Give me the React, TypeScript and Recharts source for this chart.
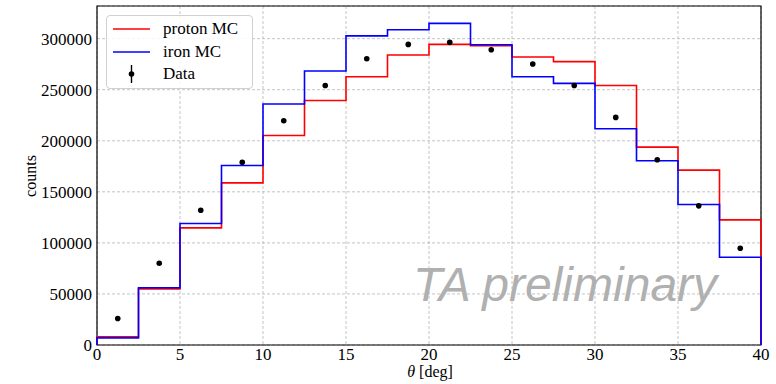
import React from 'react';
import { ComposedChart, Line, Scatter, XAxis, YAxis, CartesianGrid, ReferenceArea, Label } from 'recharts';

// bin edges in degrees (2.5 deg bins)
const binEdges = [0, 2.5, 5, 7.5, 10, 12.5, 15, 17.5, 20, 22.5, 25, 27.5, 30, 32.5, 35, 37.5, 40];

const protonCounts = [
    8000, 55000, 114700, 158800, 205200, 239500, 262700, 284000,
    294400, 293100, 282000, 277500, 254200, 193800, 171300, 122500,
];

const ironCounts = [
    7000, 56000, 119000, 175800, 236000, 268300, 302700, 308800,
    315000, 294100, 262700, 256200, 211800, 180400, 137600, 86000,
];

const dataTheta = [
    1.25, 3.75, 6.25, 8.75, 11.25, 13.75, 16.25, 18.75,
    21.25, 23.75, 26.25, 28.75, 31.25, 33.75, 36.25, 38.75,
];

const dataCounts = [
    26000, 80100, 132000, 179000, 219600, 254200, 280400, 294400,
    296400, 289200, 275200, 254200, 222900, 181400, 136300, 94800,
];

const xTicks = [0, 5, 10, 15, 20, 25, 30, 35, 40];
const yTicks = [0, 50000, 100000, 150000, 200000, 250000, 300000];
const yMax = 332000;

// closed step outline like matplotlib histtype='step'
const toSteps = (counts: number[]) => {
    const pts = [{ x: binEdges[0], y: 0 }];
    counts.forEach((c, i) => pts.push({ x: binEdges[i], y: c }));
    pts.push({ x: binEdges[binEdges.length - 1], y: counts[counts.length - 1] });
    pts.push({ x: binEdges[binEdges.length - 1], y: 0 });
    return pts;
};

const protonSteps = toSteps(protonCounts);
const ironSteps = toSteps(ironCounts);
const dataPoints = dataTheta.map((t, i) => ({ x: t, y: dataCounts[i] }));

const serif = '"Liberation Serif", "DejaVu Serif", serif';

export default function App() {
    return (
        <div style={{ position: 'absolute', left: 0, top: 0, width: 776, height: 384, background: '#fff', fontFamily: serif }}>
            <ComposedChart width={776} height={384} margin={{ top: 6, right: 15, bottom: 0, left: 0 }}>
                <CartesianGrid stroke="#b5b5b5" strokeDasharray="3 2" strokeWidth={0.8} />
                <XAxis
                    dataKey="x"
                    type="number"
                    domain={[0, 40]}
                    ticks={xTicks}
                    allowDuplicatedCategory={false}
                    height={39}
                    axisLine={false}
                    tickLine={false}
                    tickSize={0}
                    tickMargin={3}
                    tick={{ fill: '#000', fontSize: 17, fontFamily: serif }}
                >
                    <Label
                        content={() => (
                            <text x={430} y={377} textAnchor="middle" fontFamily={serif} fontSize={16} fill="#000">
                                <tspan fontStyle="italic">θ</tspan>
                                <tspan> [deg]</tspan>
                            </text>
                        )}
                    />
                </XAxis>
                <YAxis
                    dataKey="y"
                    type="number"
                    domain={[0, yMax]}
                    ticks={yTicks}
                    width={97}
                    axisLine={false}
                    tickLine={false}
                    tickSize={0}
                    tickMargin={5}
                    tick={{ fill: '#000', fontSize: 17, fontFamily: serif }}
                >
                    <Label
                        content={() => (
                            <text x={36} y={176} textAnchor="middle" fontFamily={serif} fontSize={16} fill="#000" transform="rotate(-90 36 176)">
                                counts
                            </text>
                        )}
                    />
                </YAxis>
                <Line
                    data={protonSteps}
                    dataKey="y"
                    type="stepAfter"
                    stroke="#ff0000"
                    strokeWidth={1.6}
                    dot={false}
                    activeDot={false}
                    isAnimationActive={false}
                />
                <Line
                    data={ironSteps}
                    dataKey="y"
                    type="stepAfter"
                    stroke="#0000ff"
                    strokeWidth={1.6}
                    dot={false}
                    activeDot={false}
                    isAnimationActive={false}
                />
                <Scatter
                    data={dataPoints}
                    dataKey="y"
                    fill="#000"
                    shape={(p: any) => <circle cx={p.cx} cy={p.cy} r={2.8} fill="#000" />}
                    isAnimationActive={false}
                />
                <ReferenceArea x1={0} x2={40} y1={0} y2={yMax} fill="none" stroke="#000" strokeWidth={1.2} />
            </ComposedChart>

            <div
                style={{
                    position: 'absolute',
                    left: 413,
                    top: 255,
                    fontFamily: '"Liberation Sans", Arial, sans-serif',
                    fontStyle: 'italic',
                    fontSize: 48,
                    color: '#b0b0b0',
                    lineHeight: '60px',
                    whiteSpace: 'nowrap',
                    pointerEvents: 'none',
                }}
            >
                TA preliminary
            </div>

            <div
                style={{
                    position: 'absolute',
                    left: 106,
                    top: 15,
                    width: 145,
                    height: 72,
                    border: '1px solid #d0d0d0',
                    borderRadius: 4,
                    background: 'rgba(255,255,255,0.85)',
                    fontFamily: serif,
                    fontSize: 17,
                    color: '#000',
                }}
            >
                {[
                    { label: 'proton MC', kind: 'line', color: '#ff0000' },
                    { label: 'iron MC', kind: 'line', color: '#0000ff' },
                    { label: 'Data', kind: 'dot', color: '#000' },
                ].map((item, i) => (
                    <div key={item.label} style={{ position: 'absolute', left: 0, top: 2 + i * 22.5, height: 22, display: 'flex', alignItems: 'center' }}>
                        <svg width={50} height={22} style={{ display: 'block' }}>
                            {item.kind === 'line' ? (
                                <line x1={6} x2={43} y1={11} y2={11} stroke={item.color} strokeWidth={1.6} />
                            ) : (
                                <g>
                                    <line x1={24.5} x2={24.5} y1={2} y2={20} stroke="#000" strokeWidth={1.4} />
                                    <circle cx={24.5} cy={11} r={2.8} fill="#000" />
                                </g>
                            )}
                        </svg>
                        <span style={{ marginLeft: 6, whiteSpace: 'nowrap' }}>{item.label}</span>
                    </div>
                ))}
            </div>
        </div>
    );
}
